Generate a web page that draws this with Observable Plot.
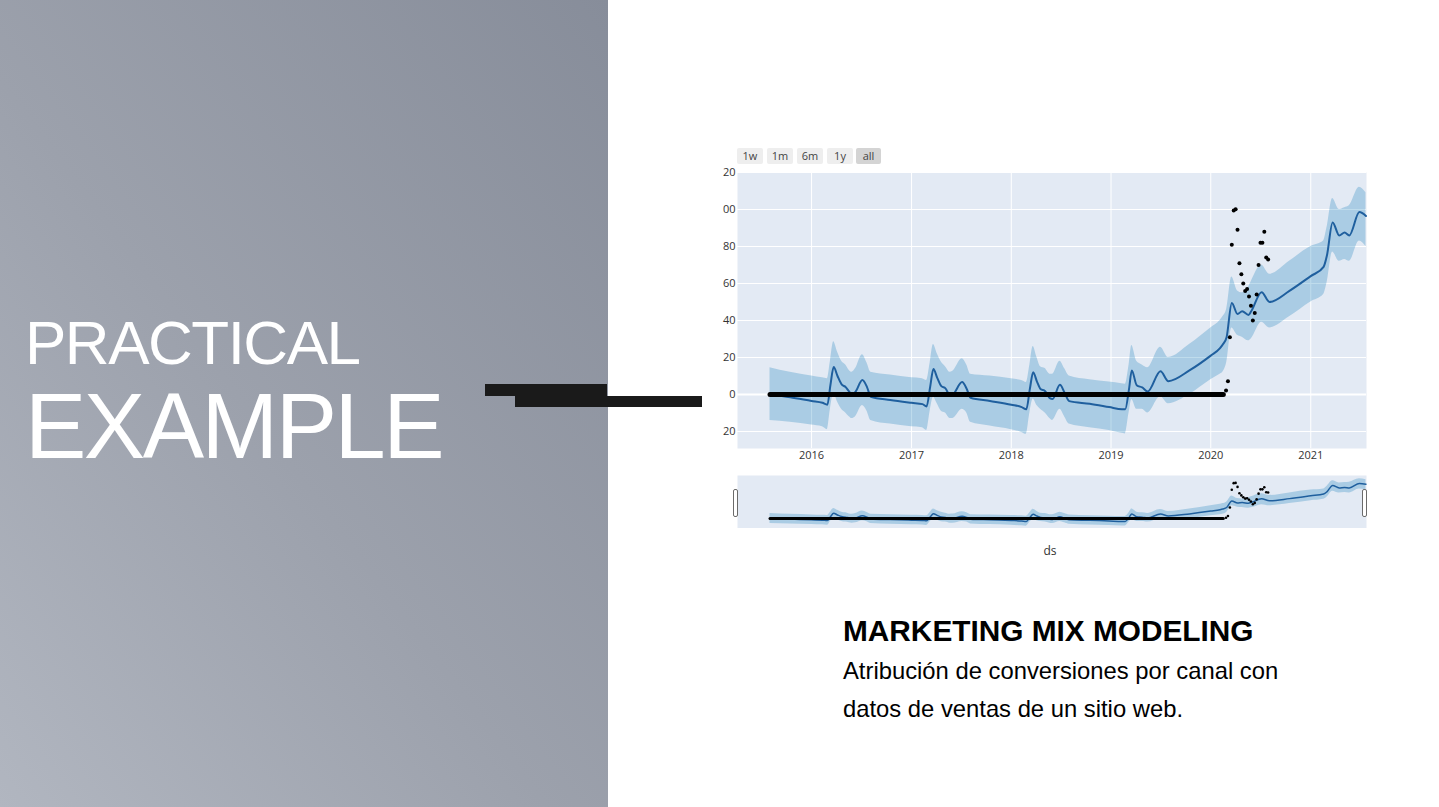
<!DOCTYPE html>
<html>
<head>
<meta charset="utf-8">
<script src="https://cdn.jsdelivr.net/npm/d3@7"></script>
<script src="https://cdn.jsdelivr.net/npm/@observablehq/plot@0.6"></script>
<style>
  body { margin: 0; width: 1439px; height: 807px; overflow: hidden; background: #fff; font-family: "Liberation Sans", Arial, sans-serif; }
  .panel { position: absolute; left: 0; top: 0; width: 608px; height: 807px;
    background: linear-gradient(to top right, #b1b6c0 0%, #9ca1ac 45%, #878d9a 100%); }
  .big { position: absolute; left: 25px; color: #fff; line-height: 1; white-space: nowrap; }
  .bar { position: absolute; background: #1a1a1a; }
  .btn { position: absolute; top: 148px; height: 16px; line-height: 16px; background: #eeeeee; color: #444;
    font: 11px "Open Sans", sans-serif; text-align: center; border-radius: 2px; }
  .btn.on { background: #d4d4d4; }
  .chart { position: absolute; left: 700px; }
  .handle { position: absolute; top: 489px; width: 3px; height: 26px; background: #fff; border: 1px solid #6b6b6b; border-radius: 2px; }
  #ds { position: absolute; left: 1038px; top: 542px; width: 24px; text-align: center; font: 12px "Open Sans", sans-serif; color: #333; }
  #title { position: absolute; left: 843px; top: 616px; font-weight: bold; font-size: 29.8px; line-height: 1; color: #000; white-space: nowrap; }
  #sub { position: absolute; left: 843px; top: 652px; font-size: 23.8px; line-height: 38px; color: #000; white-space: nowrap; }
</style>
</head>
<body>
<div class="panel"></div>
<div class="big" style="top:312px;font-size:62px;letter-spacing:-1.5px;">PRACTICAL</div>
<div class="big" style="top:380px;font-size:92px;letter-spacing:-2.5px;">EXAMPLE</div>
<div class="bar" style="left:485px;top:384px;width:122px;height:12px;"></div>
<div class="bar" style="left:515px;top:396px;width:187px;height:11px;"></div>
<div id="buttons"></div>
<div id="main" class="chart" style="top:160px;"></div>
<div id="slider" class="chart" style="top:475px;"></div>
<div class="handle" style="left:733px;"></div>
<div class="handle" style="left:1362px;"></div>
<div id="ds">ds</div>
<div id="title">MARKETING MIX MODELING</div>
<div id="sub">Atribución de conversiones por canal con<br>datos de ventas de un sitio web.</div>
<script>
// range selector buttons
const buttonLabels = ["1w", "1m", "6m", "1y", "all"];
const buttonLefts = [737, 767, 797, 827, 856];

// forecast (yhat with its interval)
const dates = [
  "2015-08-02","2015-10-15","2016-01-01","2016-02-10","2016-02-28","2016-03-10","2016-03-22","2016-04-05",
  "2016-04-20","2016-05-05","2016-05-18","2016-05-28","2016-06-10","2016-07-05","2016-07-22","2016-08-05",
  "2016-10-15","2017-01-01","2017-02-10","2017-02-25","2017-03-10","2017-03-22","2017-04-05","2017-04-20",
  "2017-05-05","2017-05-22","2017-06-01","2017-07-05","2017-07-22","2017-08-05","2017-10-15","2018-01-01",
  "2018-02-08","2018-02-25","2018-03-10","2018-03-22","2018-04-05","2018-04-18","2018-05-05","2018-05-22",
  "2018-06-01","2018-06-28","2018-07-15","2018-08-01","2018-10-15","2018-12-25","2019-02-10","2019-02-22",
  "2019-03-08","2019-03-18","2019-04-05","2019-04-25","2019-05-15","2019-07-01","2019-07-30","2019-10-15",
  "2020-01-01","2020-02-04","2020-02-14","2020-02-28","2020-03-18","2020-04-08","2020-04-25","2020-05-18",
  "2020-05-28","2020-07-05","2020-08-03","2020-10-15","2021-01-01","2021-02-17","2021-03-01","2021-03-22",
  "2021-04-15","2021-05-05","2021-05-22","2021-06-28","2021-07-22"
];
const yhat = [
  0, -1.5, -3.5, -4.5, -5.5, 5, 14.8, 10,
  5.5, 4, 1.5, 0, 1.5, 7.8, 4, -1.2,
  -3, -4.5, -5.2, -6.5, 4, 13.8, 9, 4.5,
  3.3, -0.5, 0, 6.7, 3, -1.8, -3.5, -5.5,
  -6.8, -8, 3, 12, 7, 3, 1.8, -2,
  -2.5, 5.2, 1, -3.6, -5, -6.8, -8, -8,
  3, 13, 5, 3.8, 1.6, 12.6, 7.2, 13,
  21, 25, 27, 31, 49.5, 43.5, 45, 43,
  45, 55.3, 50, 56, 64, 69, 75, 93,
  86, 87.5, 86, 98.6, 96.5
];
const yhatLower = [
  -14, -15, -16.5, -17.5, -19, -8, 0.5, -4,
  -8, -10, -12, -13, -12, -6, -9, -14,
  -16, -17.5, -18, -19.5, -9, -1.5, -5, -9,
  -10, -13, -13, -8, -10, -15, -17, -19,
  -20.5, -21.5, -10, -2.5, -6, -8, -10, -13,
  -14, -8, -12, -16, -18, -19.5, -21, -21.3,
  -10, -2.7, -8, -8, -10, -1.2, -5, 0,
  8, 11, 12, 17, 36, 32, 31, 29,
  30, 39, 36, 42, 50, 54, 60, 77,
  72, 73, 72, 83, 80
];
const yhatUpper = [
  14.5, 12, 10, 9, 8.5, 18, 28.5, 23,
  18, 16, 13, 12, 14, 21.5, 17, 12,
  10.5, 9, 8.5, 7.5, 17, 27, 22, 17.5,
  15, 12, 12.5, 19.3, 16, 11, 10, 8.5,
  7.5, 6.5, 16, 26, 20, 15, 14, 11,
  11, 18, 14, 10, 8, 6.7, 5.8, 5.5,
  16, 26.5, 18, 16, 14.5, 25.6, 20, 27,
  36, 40, 42, 46, 63.5, 56, 55, 58,
  61, 70, 65, 72, 80, 83, 90, 106,
  100, 101, 102, 112, 109
];

// observed values: flat zero run, then weekly points in 2020
const zeroRunDates = ["2015-08-02", "2020-02-16"];
const zeroRunValues = [0, 0];
const actualDates = [
  "2020-02-26","2020-03-04","2020-03-11","2020-03-18","2020-03-25","2020-04-01","2020-04-08","2020-04-15",
  "2020-04-22","2020-04-29","2020-05-06","2020-05-13","2020-05-20","2020-05-27","2020-06-03","2020-06-10",
  "2020-06-17","2020-06-24","2020-07-01","2020-07-08","2020-07-15","2020-07-22","2020-07-29"
];
const actualValues = [
  2.2, 7.2, 31, 81, 99.5, 100.2, 89, 71,
  65, 60, 56, 57, 53, 48, 40, 44,
  54, 70, 82, 82, 88, 74, 73
];

// axes
const yTicks = [120, 100, 80, 60, 40, 20, 0, -20];
const yTickLabels = ["20", "00", "80", "60", "40", "20", "0", "20"];
const yearTicks = ["2016-01-01", "2017-01-01", "2018-01-01", "2019-01-01", "2020-01-01", "2021-01-01"];
const xDomain = ["2015-04-05", "2021-07-24"];

const forecast = dates.map((d, i) => ({ds: new Date(d), yhat: yhat[i], lower: yhatLower[i], upper: yhatUpper[i]}));
const zeroRun = zeroRunDates.map((d, i) => ({ds: new Date(d), y: zeroRunValues[i]}));
const actual = actualDates.map((d, i) => ({ds: new Date(d), y: actualValues[i]}));
const years = yearTicks.map(d => new Date(d));
const tickLabel = new Map(yTicks.map((v, i) => [v, yTickLabels[i]]));

buttonLabels.forEach((b, i) => {
  d3.select("#buttons").append("div")
    .attr("class", b === "all" ? "btn on" : "btn")
    .style("left", buttonLefts[i] + "px")
    .style("width", (b === "all" ? 25 : 26) + "px")
    .text(b);
});

const band = "#0072B2";
const lineColor = "#1f5f9e";

const main = Plot.plot({
  width: 680,
  height: 310,
  marginLeft: 37,
  marginRight: 14,
  marginTop: 12,
  marginBottom: 22,
  style: {background: "transparent", fontFamily: "Open Sans, sans-serif", fontSize: "11px", color: "#333"},
  x: {type: "utc", domain: xDomain.map(d => new Date(d))},
  y: {domain: [-29.2, 120]},
  marks: [
    Plot.frame({fill: "#E3EAF4", stroke: null}),
    Plot.ruleX(years, {stroke: "white", strokeWidth: 1}),
    Plot.ruleY(yTicks, {stroke: "white", strokeWidth: 1}),
    Plot.ruleY([0], {stroke: "white", strokeWidth: 2}),
    Plot.areaY(forecast, {x: "ds", y1: "lower", y2: "upper", fill: band, fillOpacity: 0.25, curve: "monotone-x"}),
    Plot.line(forecast, {x: "ds", y: "yhat", stroke: lineColor, strokeWidth: 2, curve: "monotone-x"}),
    Plot.line(zeroRun, {x: "ds", y: "y", stroke: "black", strokeWidth: 5}),
    Plot.dot(actual, {x: "ds", y: "y", r: 2, fill: "black"}),
    Plot.axisY({ticks: yTicks, tickFormat: d => tickLabel.get(d), tickSize: 0, tickPadding: 2, label: null}),
    Plot.axisX({ticks: years, tickFormat: "%Y", tickSize: 0, tickPadding: 3, label: null})
  ]
});
d3.select("#main").append(() => main);

const slider = Plot.plot({
  width: 680,
  height: 53,
  marginLeft: 37,
  marginRight: 14,
  marginTop: 0,
  marginBottom: 0,
  style: {background: "transparent"},
  x: {type: "utc", domain: xDomain.map(d => new Date(d)), axis: null},
  y: {domain: [-28, 121], axis: null},
  marks: [
    Plot.frame({fill: "#E3EAF4", stroke: null}),
    Plot.areaY(forecast, {x: "ds", y1: "lower", y2: "upper", fill: band, fillOpacity: 0.25, curve: "monotone-x"}),
    Plot.line(forecast, {x: "ds", y: "yhat", stroke: lineColor, strokeWidth: 1.5, curve: "monotone-x"}),
    Plot.line(zeroRun, {x: "ds", y: "y", stroke: "black", strokeWidth: 3}),
    Plot.dot(actual, {x: "ds", y: "y", r: 1.3, fill: "black"})
  ]
});
d3.select("#slider").append(() => slider);
</script>
</body>
</html>
